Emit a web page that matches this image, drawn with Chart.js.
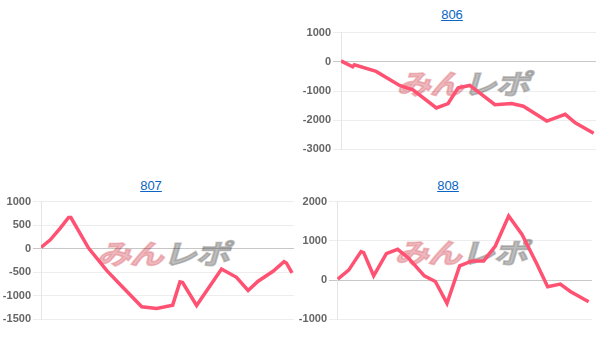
<!DOCTYPE html>
<html>
<head>
<meta charset="utf-8">
<script src="https://cdn.jsdelivr.net/npm/chart.js@4"></script>
<style>
  body { margin: 0; width: 610px; height: 346px; background: #fff; position: relative; overflow: hidden; }
  .ttl { position: absolute; font: 13px Arial, "Liberation Sans", sans-serif; color: #0a66c2; text-decoration: underline; transform: translateX(-50%); }
  .wm { position: absolute; font: bold 34px "Noto Sans CJK JP", sans-serif; transform: translate(-50%, -50%) skewX(-16deg) scaleY(0.8); white-space: nowrap; letter-spacing: -1px; }
  .wm .a { color: rgba(228, 138, 146, 0.6); -webkit-text-stroke: 2px rgba(228, 138, 146, 0.6); }
  .wm .b { color: rgba(145, 145, 145, 0.6); -webkit-text-stroke: 2px rgba(145, 145, 145, 0.6); }
  canvas { position: absolute; }
</style>
</head>
<body>
<a class="ttl" style="left:452px; top:7px;">806</a>
<a class="ttl" style="left:151px; top:178px;">807</a>
<a class="ttl" style="left:448px; top:178px;">808</a>

<div class="wm" style="left:466px; top:82px;"><span class="a">みん</span><span class="b">レポ</span></div>
<div class="wm" style="left:166px; top:252px;"><span class="a">みん</span><span class="b">レポ</span></div>
<div class="wm" style="left:464px; top:251px;"><span class="a">みん</span><span class="b">レポ</span></div>

<canvas id="c806" width="296" height="134" style="left:300px; top:24px;"></canvas>
<canvas id="c807" width="294" height="135" style="left:0px; top:193px;"></canvas>
<canvas id="c808" width="296" height="135" style="left:296px; top:193px;"></canvas>

<script>
// game count (x) and medal difference (y)
let games806 = [0, 35, 40, 105, 175, 215, 285, 320, 350, 385, 460, 510, 545, 615, 670, 700, 755];
let diff806  = [30, -170, -100, -330, -810, -960, -1580, -1430, -890, -810, -1470, -1430, -1520, -2030, -1800, -2090, -2450];

let games807 = [0, 28, 58, 83, 90, 143, 198, 238, 303, 348, 396, 418, 426, 468, 543, 588, 623, 653, 698, 731, 738, 755];
let diff807  = [28, 190, 437, 662, 662, 14, -465, -760, -1232, -1268, -1197, -704, -718, -1204, -430, -606, -887, -690, -479, -275, -303, -514];

let games808 = [2, 35, 72, 80, 110, 148, 182, 215, 262, 295, 330, 368, 405, 440, 475, 515, 555, 600, 632, 670, 700, 755];
let diff808  = [25, 254, 727, 700, 110, 676, 786, 558, 110, -34, -592, 363, 490, 490, 870, 1631, 1166, 406, -169, -101, -287, -549];

let lineColor = 'rgb(255, 82, 115)';

function makeChart(id, xs, ys, yMin, yMax, yStep, xMax) {
    let ctx = document.getElementById(id).getContext('2d');
    let points = xs.map((x, i) => ({ x: x, y: ys[i] }));
    return new Chart(ctx, {
        type: 'line',
        data: {
            datasets: [{
                data: points,
                borderColor: lineColor,
                borderWidth: 3.5,
                pointRadius: 0,
                tension: 0,
                fill: false
            }]
        },
        options: {
            responsive: false,
            animation: false,
            plugins: { legend: { display: false }, tooltip: { enabled: false } },
            layout: { padding: 0 },
            scales: {
                x: { type: 'linear', min: 0, max: xMax, display: false },
                y: {
                    min: yMin,
                    max: yMax,
                    ticks: {
                        stepSize: yStep,
                        color: '#666',
                        padding: 2,
                        font: { family: 'Arial, "Liberation Sans", sans-serif', size: 11, weight: 'bold' },
                        callback: v => String(v)
                    },
                    grid: {
                        color: c => c.tick && c.tick.value === 0 ? 'rgba(0,0,0,0.22)' : 'rgba(0,0,0,0.07)'
                    },
                    border: { color: 'rgba(0,0,0,0.1)' },
                    afterFit: s => { s.width = 41; }
                }
            }
        }
    });
}

makeChart('c806', games806, diff806, -3000, 1000, 1000, 762);
makeChart('c807', games807, diff807, -1500, 1000, 500, 761);
makeChart('c808', games808, diff808, -1000, 2000, 1000, 765);
</script>
</body>
</html>
